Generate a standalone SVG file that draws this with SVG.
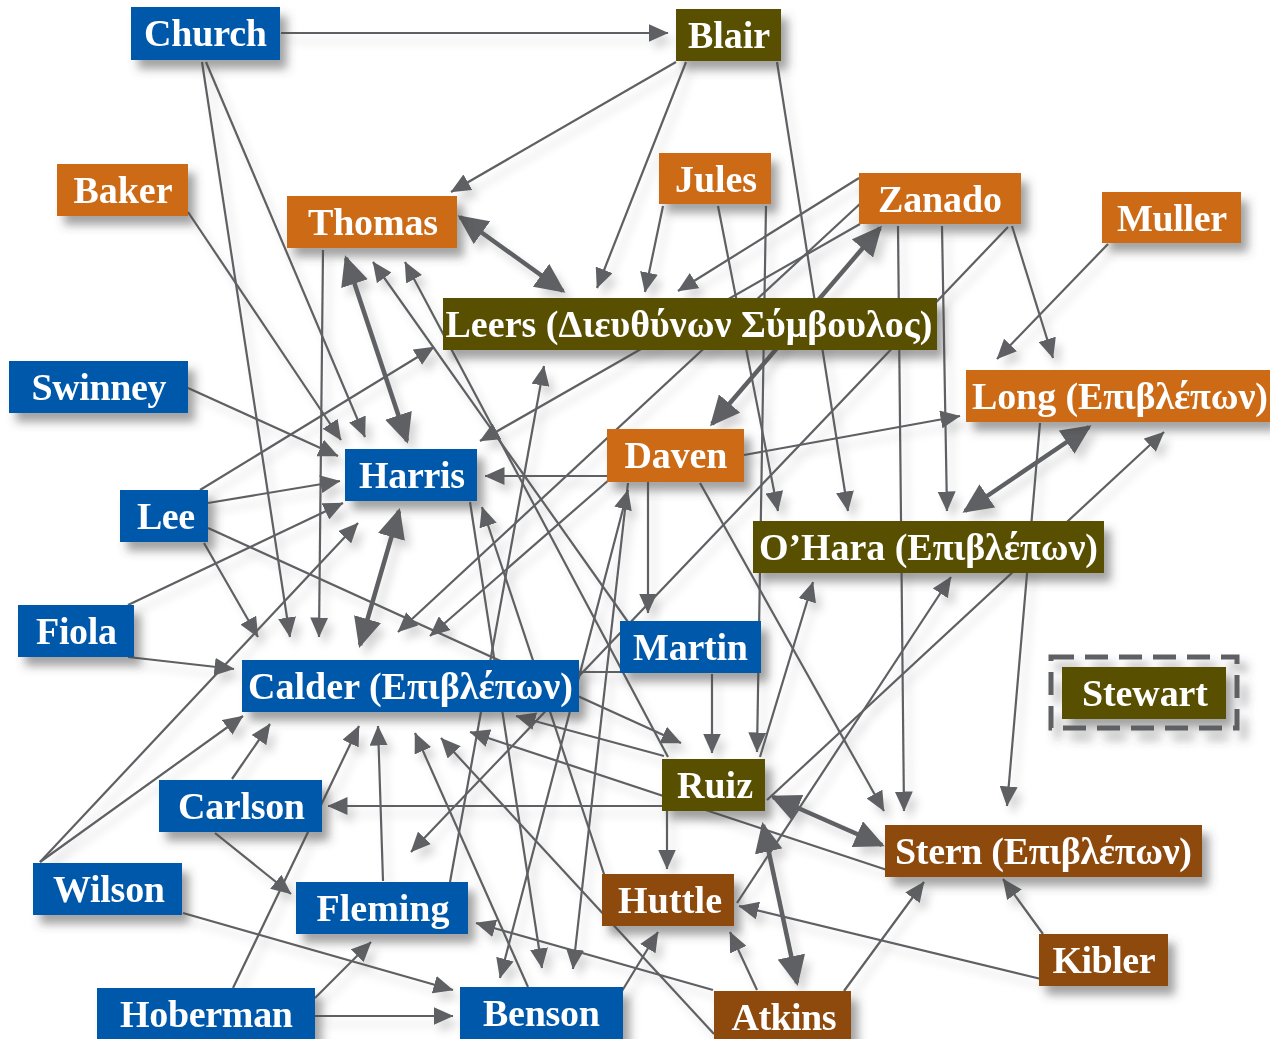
<svg xmlns="http://www.w3.org/2000/svg" width="1270" height="1039" viewBox="0 0 1270 1039">
<style>
.e{stroke:#5f6063;stroke-width:2.2;fill:none;marker-end:url(#a)}
.p{stroke:#5f6063;stroke-width:2.2;fill:none}
.bi{marker-start:url(#a)}
.E{stroke:#5f6063;stroke-width:4.5;fill:none;marker-start:url(#A);marker-end:url(#A)}
.n{filter:url(#sh)}
.n text{font-family:"Liberation Serif","Times New Roman",serif;font-weight:bold;font-size:38px;fill:#fff;text-anchor:middle}
.b rect{fill:#0059aa}
.o rect{fill:#cc6a19}
.g rect{fill:#585000}
.r rect{fill:#8e4a0e}
</style>
<defs>
<filter id="sh" x="-20%" y="-30%" width="150%" height="180%"><feDropShadow dx="7" dy="9" stdDeviation="5" flood-color="#444" flood-opacity="0.5"/></filter>
<filter id="ls" x="-5%" y="-5%" width="115%" height="115%"><feDropShadow dx="6" dy="8" stdDeviation="4" flood-color="#000" flood-opacity="0.16"/></filter>
<marker id="a" viewBox="0 0 20 18" refX="19.5" refY="9" markerWidth="20" markerHeight="18" markerUnits="userSpaceOnUse" orient="auto-start-reverse"><path d="M0,0L20,9L0,18z" fill="#5f6063"/></marker>
<marker id="A" viewBox="0 0 30 28" refX="27" refY="14" markerWidth="30" markerHeight="28" markerUnits="userSpaceOnUse" orient="auto-start-reverse"><path d="M0,0L30,14L0,28z" fill="#5f6063"/></marker>
</defs>
<rect width="1270" height="1039" fill="#fff"/>
<g id="connectors" filter="url(#ls)">
<line class="e" x1="281" y1="33" x2="668" y2="33"/>
<line class="e" x1="202" y1="62" x2="290" y2="637"/>
<line class="e" x1="206" y1="62" x2="365" y2="437"/>
<line class="e" x1="188" y1="212" x2="341" y2="440"/>
<line class="e" x1="188" y1="388" x2="338" y2="456"/>
<line class="e" x1="208" y1="503" x2="340" y2="481"/>
<line class="e" x1="200" y1="490" x2="434" y2="347"/>
<line class="e" x1="128" y1="605" x2="343" y2="503"/>
<line class="e" x1="204" y1="543" x2="258" y2="637"/>
<line class="e" x1="208" y1="528" x2="681" y2="743"/>
<line class="e" x1="323" y1="250" x2="319" y2="637"/>
<line class="e" x1="628" y1="622" x2="373" y2="262"/>
<line class="e" x1="668" y1="757" x2="405" y2="262"/>
<line class="e" x1="676" y1="62" x2="451" y2="192"/>
<line class="e" x1="686" y1="62" x2="597" y2="288"/>
<line class="e" x1="777" y1="62" x2="848" y2="511"/>
<line class="e" x1="663" y1="206" x2="645" y2="292"/>
<line class="e" x1="859" y1="178" x2="678" y2="291"/>
<line class="e" x1="718" y1="206" x2="778" y2="511"/>
<line class="e" x1="766" y1="206" x2="757" y2="752"/>
<line class="e" x1="860" y1="224" x2="480" y2="441"/>
<line class="e" x1="862" y1="202" x2="398" y2="632"/>
<line class="e" x1="898" y1="226" x2="904" y2="811"/>
<line class="e" x1="942" y1="226" x2="947" y2="511"/>
<line class="e" x1="1012" y1="226" x2="1053" y2="358"/>
<line class="e" x1="1008" y1="227" x2="411" y2="852"/>
<line class="e" x1="1108" y1="244" x2="997" y2="359"/>
<line class="e" x1="744" y1="455" x2="960" y2="416"/>
<line class="e" x1="608" y1="476" x2="485" y2="476"/>
<line class="e" x1="648" y1="482" x2="648" y2="613"/>
<line class="e" x1="700" y1="483" x2="884" y2="811"/>
<line class="e" x1="1040" y1="423" x2="1007" y2="806"/>
<line class="e" x1="767" y1="800" x2="1164" y2="432"/>
<line class="e" x1="760" y1="757" x2="813" y2="582"/>
<line class="e" x1="737" y1="903" x2="951" y2="577"/>
<line class="e" x1="712" y1="674" x2="712" y2="753"/>
<line class="e" x1="664" y1="756" x2="516" y2="716"/>
<line class="e" x1="887" y1="870" x2="470" y2="732"/>
<line class="e" x1="528" y1="987" x2="415" y2="733"/>
<line class="e" x1="714" y1="1034" x2="441" y2="738"/>
<line class="e" x1="40" y1="862" x2="243" y2="716"/>
<line class="e" x1="40" y1="862" x2="358" y2="523"/>
<line class="e" x1="128" y1="657" x2="234" y2="669"/>
<line class="e" x1="232" y1="779" x2="270" y2="724"/>
<line class="e" x1="233" y1="988" x2="359" y2="726"/>
<line class="e" x1="383" y1="881" x2="378" y2="726"/>
<line class="e" x1="662" y1="806" x2="328" y2="806"/>
<line class="e" x1="215" y1="833" x2="291" y2="894"/>
<line class="e" x1="183" y1="913" x2="453" y2="990"/>
<line class="e" x1="315" y1="998" x2="371" y2="942"/>
<line class="e" x1="314" y1="1016" x2="453" y2="1016"/>
<line class="e" x1="470" y1="502" x2="542" y2="968"/>
<line class="e" x1="605" y1="877" x2="482" y2="507"/>
<line class="e bi" x1="500" y1="978" x2="628" y2="490"/>
<line class="e" x1="628" y1="483" x2="573" y2="969"/>
<line class="e" x1="450" y1="882" x2="544" y2="366"/>
<line class="e" x1="610" y1="479" x2="430" y2="636"/>
<line class="e" x1="667" y1="811" x2="667" y2="869"/>
<line class="e" x1="622" y1="991" x2="658" y2="932"/>
<line class="e" x1="757" y1="990" x2="730" y2="932"/>
<line class="e" x1="1041" y1="979" x2="739" y2="906"/>
<line class="e" x1="713" y1="990" x2="476" y2="923"/>
<line class="e" x1="844" y1="991" x2="924" y2="882"/>
<line class="e" x1="1043" y1="934" x2="1003" y2="879"/>
<line class="p" x1="579" y1="672" x2="620" y2="672"/>
<line class="E" x1="460" y1="217" x2="563" y2="291"/>
<line class="E" x1="346" y1="258" x2="407" y2="441"/>
<line class="E" x1="399" y1="511" x2="360" y2="645"/>
<line class="E" x1="880" y1="228" x2="712" y2="424"/>
<line class="E" x1="1089" y1="427" x2="965" y2="511"/>
<line class="E" x1="773" y1="797" x2="882" y2="845"/>
<line class="E" x1="763" y1="825" x2="797" y2="983"/>
</g>
<g id="church" class="n b"><rect x="131" y="7" width="149" height="53"/><text x="205.5" y="46" textLength="123">Church</text></g>
<g id="blair" class="n g"><rect x="676" y="9" width="105" height="52"/><text x="729" y="48" textLength="82">Blair</text></g>
<g id="baker" class="n o"><rect x="57" y="164" width="131" height="52"/><text x="123" y="203" textLength="99">Baker</text></g>
<g id="thomas" class="n o"><rect x="287" y="196" width="170" height="52"/><text x="373" y="235" textLength="130">Thomas</text></g>
<g id="jules" class="n o"><rect x="659" y="153" width="112" height="51"/><text x="716" y="192" textLength="82">Jules</text></g>
<g id="zanado" class="n o"><rect x="859" y="173" width="162" height="51"/><text x="940" y="212" textLength="124">Zanado</text></g>
<g id="muller" class="n o"><rect x="1102" y="192" width="139" height="51"/><text x="1172" y="231" textLength="110">Muller</text></g>
<g id="leers" class="n g"><rect x="443" y="298" width="494" height="52"/><text x="689" y="337" textLength="487">Leers (Διευθύνων Σύμβουλος)</text></g>
<g id="swinney" class="n b"><rect x="9" y="361" width="179" height="52"/><text x="99" y="400" textLength="135">Swinney</text></g>
<g id="long" class="n o"><rect x="966" y="370" width="304" height="52"/><text x="1120" y="409" textLength="296">Long (Επιβλέπων)</text></g>
<g id="harris" class="n b"><rect x="345" y="449" width="132" height="52"/><text x="412" y="488" textLength="106">Harris</text></g>
<g id="daven" class="n o"><rect x="607" y="429" width="137" height="53"/><text x="676" y="468" textLength="103">Daven</text></g>
<g id="lee" class="n b"><rect x="120" y="490" width="88" height="52"/><text x="166" y="529" textLength="58">Lee</text></g>
<g id="ohara" class="n g"><rect x="753" y="521" width="351" height="52"/><text x="928.5" y="560" textLength="339">O’Hara (Επιβλέπων)</text></g>
<g id="fiola" class="n b"><rect x="18" y="605" width="116" height="52"/><text x="76.5" y="644" textLength="81">Fiola</text></g>
<g id="martin" class="n b"><rect x="620" y="621" width="141" height="52"/><text x="690.5" y="660" textLength="115">Martin</text></g>
<g id="calder" class="n b"><rect x="242" y="660" width="337" height="52"/><text x="410.5" y="699" textLength="325">Calder (Επιβλέπων)</text></g>
<g id="stewart" class="n g"><rect x="1051" y="657" width="186" height="71" fill="none" stroke="#5f6063" stroke-width="5" stroke-dasharray="23 11" style="fill:none"/><rect x="1062" y="667" width="164" height="52"/><text x="1145" y="706" textLength="126">Stewart</text></g>
<g id="ruiz" class="n g"><rect x="662" y="759" width="103" height="52"/><text x="715" y="798" textLength="76">Ruiz</text></g>
<g id="carlson" class="n b"><rect x="159" y="780" width="163" height="52"/><text x="241.5" y="819" textLength="127">Carlson</text></g>
<g id="stern" class="n r"><rect x="885" y="825" width="317" height="52"/><text x="1043.5" y="864" textLength="297">Stern (Επιβλέπων)</text></g>
<g id="wilson" class="n b"><rect x="33" y="863" width="149" height="52"/><text x="109" y="902" textLength="112">Wilson</text></g>
<g id="fleming" class="n b"><rect x="296" y="882" width="172" height="52"/><text x="383" y="921" textLength="133">Fleming</text></g>
<g id="huttle" class="n r"><rect x="602" y="874" width="132" height="52"/><text x="670" y="913" textLength="104">Huttle</text></g>
<g id="kibler" class="n r"><rect x="1039" y="934" width="129" height="52"/><text x="1104" y="973" textLength="103">Kibler</text></g>
<g id="hoberman" class="n b"><rect x="97" y="988" width="218" height="52"/><text x="206.5" y="1027" textLength="173">Hoberman</text></g>
<g id="benson" class="n b"><rect x="460" y="987" width="163" height="53"/><text x="541.5" y="1026" textLength="117">Benson</text></g>
<g id="atkins" class="n r"><rect x="714" y="991" width="137" height="52"/><text x="784" y="1030" textLength="105">Atkins</text></g>
</svg>
